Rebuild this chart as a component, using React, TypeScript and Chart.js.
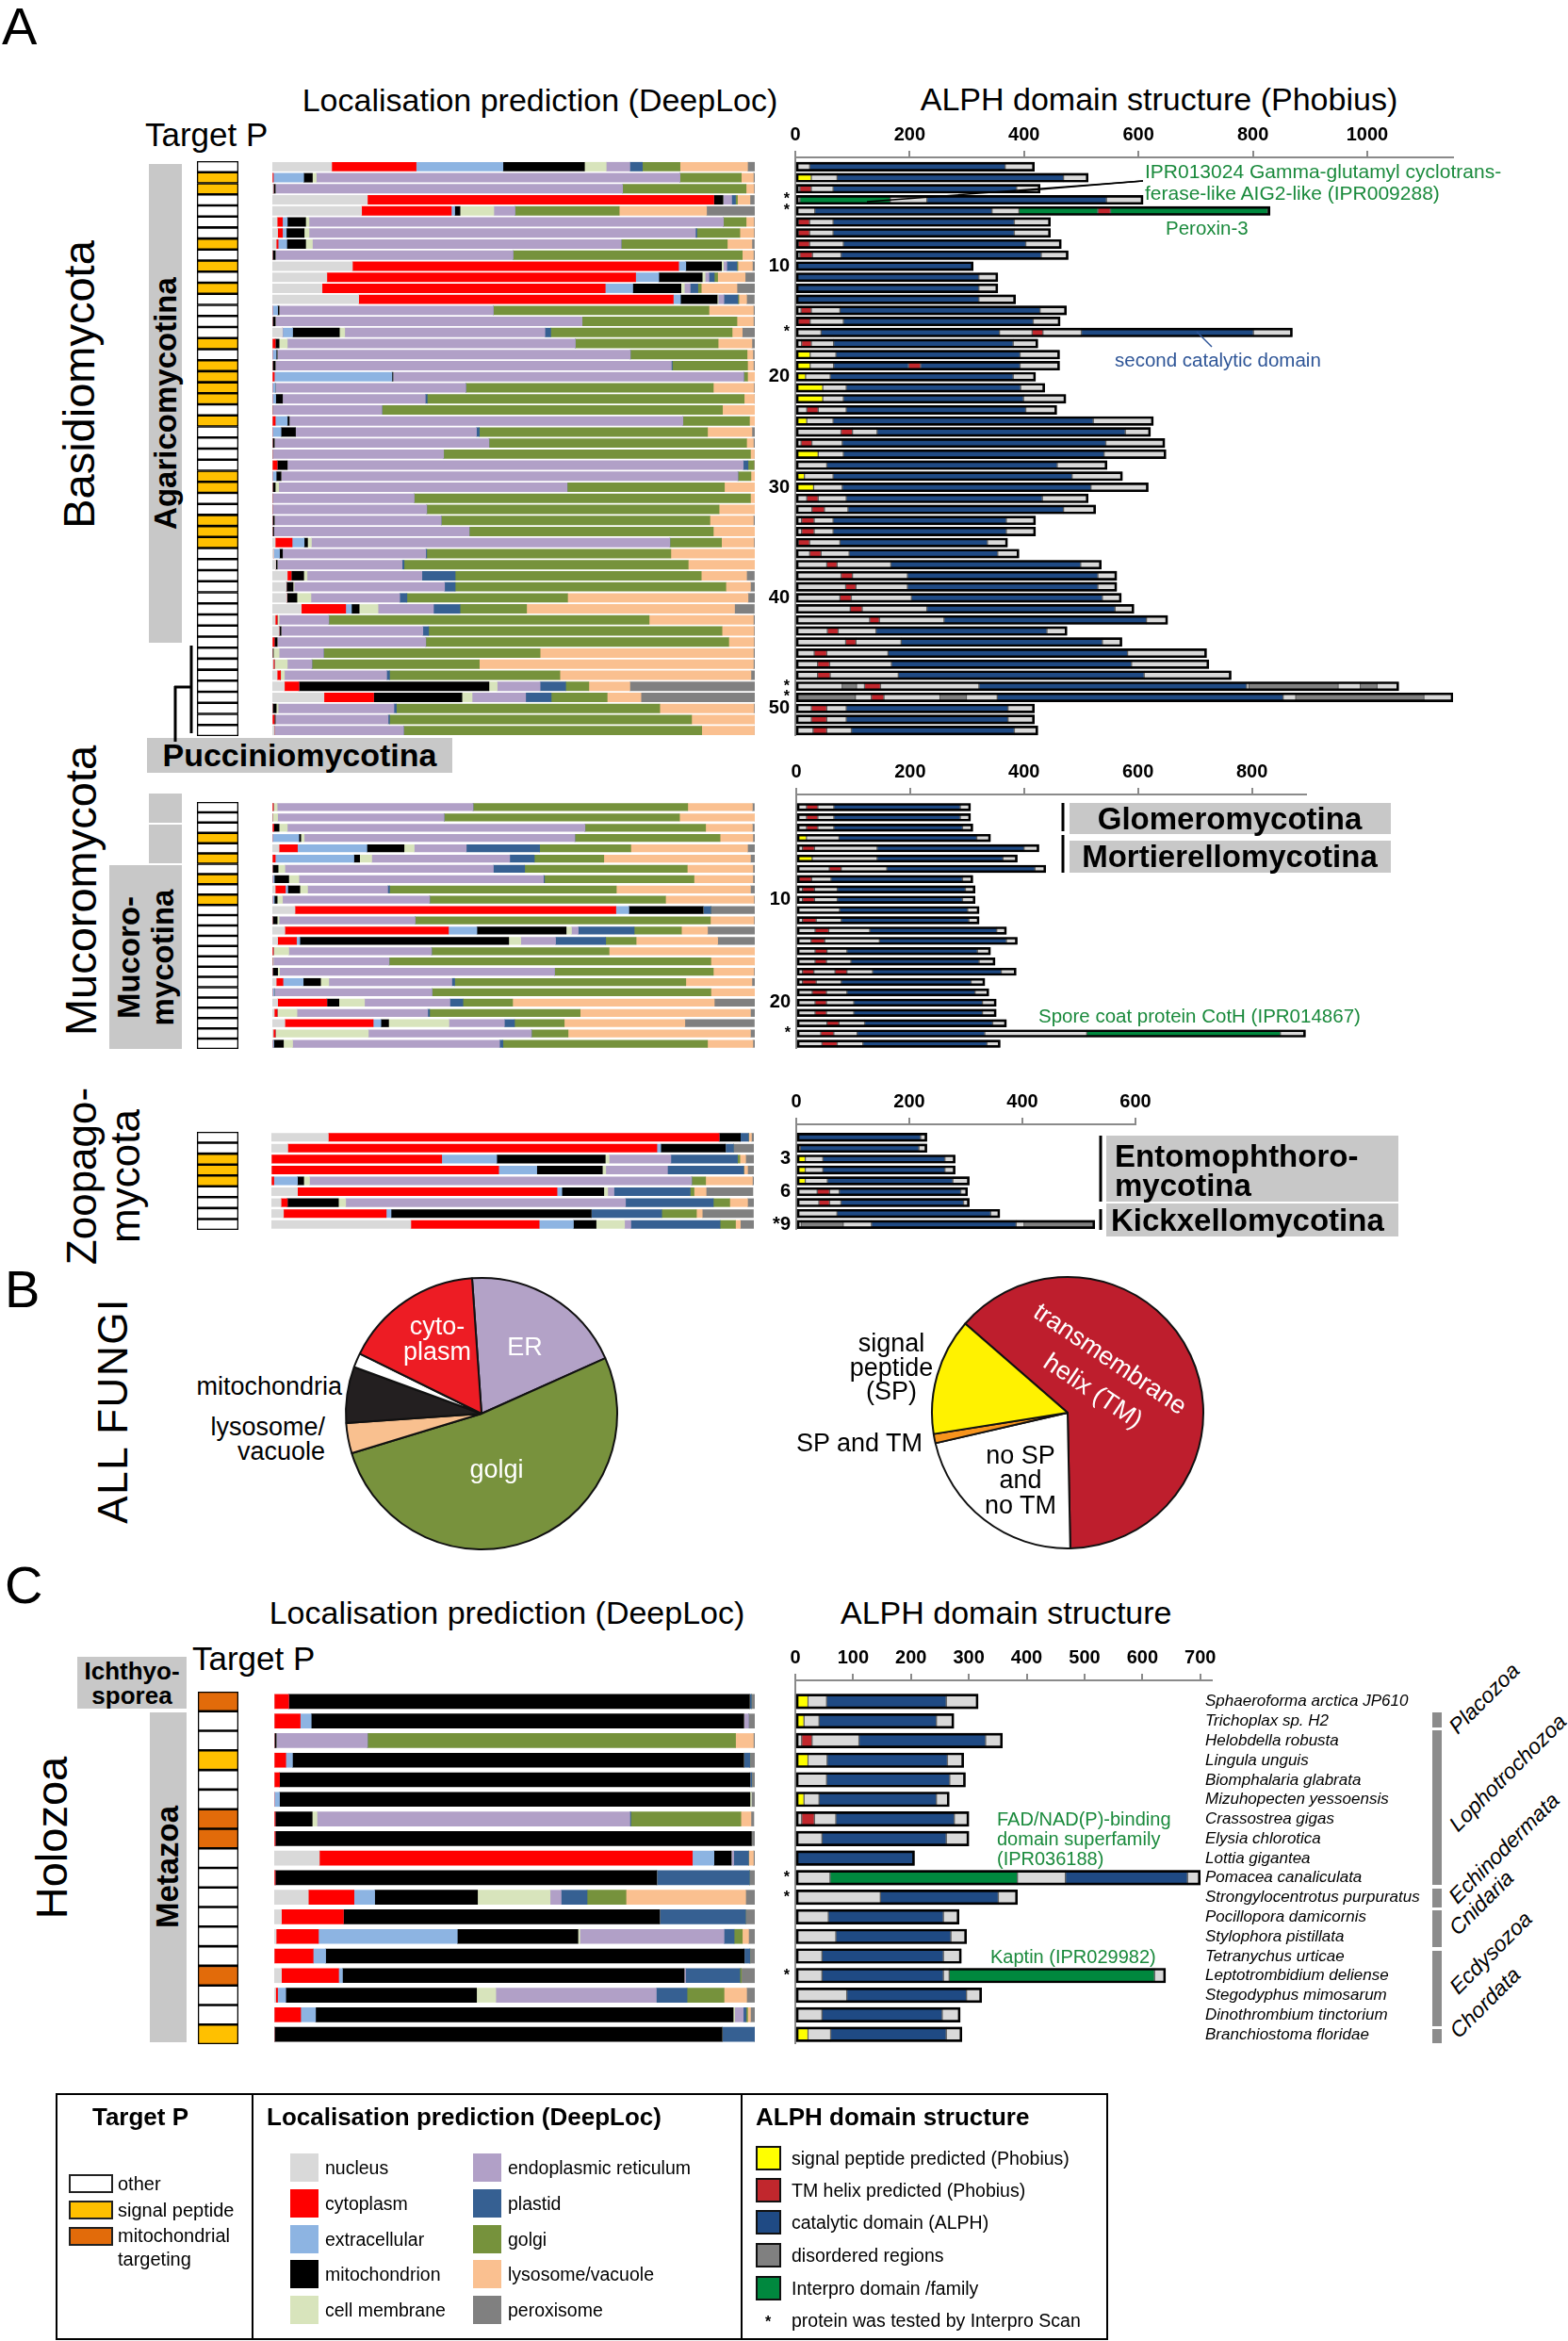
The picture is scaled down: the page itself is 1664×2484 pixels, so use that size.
import React, { useEffect, useRef } from 'react';
import { Chart, registerables } from 'chart.js';
Chart.register(...registerables);

const FONT = "'Liberation Sans', Arial, Helvetica, sans-serif";
Chart.defaults.font.family = FONT;

// ---------------- DATA ----------------
const locCategories = ['nucleus', 'cytoplasm', 'extracellular', 'mitochondrion', 'cell membrane', 'endoplasmic reticulum', 'plastid', 'golgi', 'lysosome/vacuole', 'peroxisome'];
const locColors = ['#d9d9d9', '#ff0000', '#8db4e2', '#000000', '#d8e4bc', '#b1a0c7', '#366092', '#76923c', '#fac090', '#808080'];

// DeepLoc probabilities (%), order = locCategories
const basidioLoc = [
  [12.3, 17.5, 18, 16.9, 4.5, 4.9, 2.6, 7.8, 14, 1.5],
  [0, 0.2, 6.3, 1.8, 0.8, 75.4, 0, 12.7, 2.5, 0.3],
  [0.2, 0, 0, 0.4, 0, 72, 0, 25.6, 1.6, 0.2],
  [19.7, 71.8, 0, 1.9, 0, 1.8, 0.8, 0.4, 2.6, 0.9],
  [18.5, 18.6, 0.7, 1.1, 7, 4.4, 0, 21.6, 18.1, 10.1],
  [1, 1.1, 1, 3.8, 0.7, 85.9, 0, 4.7, 1.6, 0.2],
  [1.1, 1, 0.8, 3.7, 1, 80.1, 0.3, 8.9, 2.9, 0.2],
  [0.8, 0.4, 1.8, 3.9, 1.4, 64, 0, 22, 5.1, 0.5],
  [0, 0, 0, 0.6, 0, 49.3, 0, 47.5, 2.3, 0.3],
  [16.6, 67.6, 1.5, 7.4, 0.4, 0.7, 2.1, 0.2, 3, 0.5],
  [11.3, 64, 4.8, 9, 0.6, 0.8, 1.1, 0.7, 5.7, 2.1],
  [10.3, 58.7, 5.7, 10, 0.7, 1.2, 1.6, 0.7, 7.4, 3.7],
  [17.9, 65.2, 1.5, 7.6, 0.2, 1.2, 2.9, 0.2, 1.6, 1.6],
  [0, 0, 1.1, 0.3, 0, 44.4, 0, 44.7, 9.2, 0.3],
  [0, 0, 0, 0.6, 0, 63.6, 0, 32.1, 3.4, 0.3],
  [2.1, 0, 2.1, 9.7, 1.1, 41.5, 1.2, 37.6, 2.1, 2.7],
  [0, 0.6, 0, 0.8, 1.7, 59.7, 0, 29.6, 7, 0.6],
  [0, 0, 0.8, 0.2, 0, 73.2, 0, 24.2, 1.2, 0.3],
  [0, 0, 0, 0.6, 0, 82.1, 0.2, 15.6, 1.2, 0.3],
  [0, 0.4, 24.4, 0.2, 0, 72.7, 0, 0.8, 1.5, 0],
  [0, 0, 0.6, 0, 0, 39.5, 0, 51.3, 8.4, 0.2],
  [0, 0, 0.7, 1.4, 0, 29.6, 0.4, 65.7, 2.1, 0.1],
  [0, 0, 0, 0, 0, 22.7, 0, 70.6, 6.7, 0],
  [0, 0.6, 2.5, 0.4, 0, 81.6, 0, 13.8, 1.1, 0],
  [0, 0, 1.8, 3, 0, 37.5, 0.6, 47.3, 9.2, 0.6],
  [0, 0, 0, 0.4, 0, 44.5, 0, 53.4, 1.4, 0.3],
  [0, 0, 0, 0, 0, 35.5, 0, 63.6, 0.8, 0],
  [0, 1, 0, 2.1, 0, 94.5, 1, 1.2, 0, 0.2],
  [0, 0, 0.8, 1, 0, 94.7, 0, 2.7, 0.8, 0],
  [0, 0, 0, 0.6, 0.7, 59.8, 0, 32.6, 6.4, 0],
  [0, 0, 0, 0, 0, 29.4, 0, 69.7, 0.9, 0],
  [0, 0, 0, 0, 0, 32, 0, 60.6, 7.4, 0],
  [0, 0, 0, 0.4, 0, 34.6, 0, 55.7, 9, 0.3],
  [0, 0, 0, 0.3, 0, 40.5, 0, 50.6, 8.6, 0],
  [0.6, 3.5, 2.5, 0.7, 0.8, 74.3, 0, 10.7, 6.7, 0.2],
  [0.3, 0, 1.2, 0.6, 0, 29.7, 0.2, 50.6, 17.5, 0],
  [0.7, 0, 0, 0.3, 0, 25.9, 0.4, 58.9, 13.8, 0],
  [3.1, 0.8, 0, 2.6, 0.7, 23.8, 6.9, 51, 9.4, 1.6],
  [2.9, 0, 0, 1.4, 0.2, 31.2, 2.2, 56.1, 5.1, 0.9],
  [3, 0, 0, 2.1, 2.9, 18.4, 1.5, 33.3, 37.4, 1.5],
  [6, 9.2, 1.2, 1.6, 3.9, 11.5, 5.5, 13.8, 43.1, 4.1],
  [0.6, 0.4, 0, 0, 0.4, 10.3, 0, 66.4, 21.6, 0.3],
  [1.4, 0, 0, 0.4, 0, 29.4, 1.2, 60.8, 6.6, 0.2],
  [0, 0.4, 0, 0.6, 0, 30.8, 0, 62.8, 5.2, 0.2],
  [0, 0, 0, 0.2, 1.2, 9.2, 0, 44.9, 44.2, 0.3],
  [0.2, 0.2, 0, 0, 2.7, 5.1, 0, 34.7, 56.8, 0.3],
  [1, 0.7, 0, 0, 0.8, 21.2, 0.6, 35.3, 39.6, 0.9],
  [2.5, 3, 0, 39.4, 1.7, 8.9, 5.3, 4.8, 8.5, 25.9],
  [10.7, 10.3, 0, 18.3, 2.1, 11.1, 5.3, 11.6, 7, 23.6],
  [0, 0, 0, 0.8, 0.4, 24, 0.5, 54.6, 19.5, 0.2],
  [0, 0.4, 0, 0.2, 0, 23.4, 0.3, 62.6, 13.1, 0],
  [0.4, 0, 0, 0, 0, 26.8, 0, 61.8, 10.9, 0],
];

const mucoroLoc = [
  [0, 0.2, 0, 0, 0.8, 40.6, 0, 44.5, 13.4, 0.4],
  [0, 0, 0, 0, 1.1, 34.5, 0, 48.8, 15.6, 0],
  [0, 0.3, 0, 1.1, 1.7, 61.7, 0, 25, 9.7, 0.4],
  [0, 0, 5.5, 0.4, 0.7, 56.1, 0, 30.1, 6.8, 0.4],
  [1.4, 3.8, 14.4, 7.7, 2.1, 10.8, 15.2, 18.9, 24.2, 1.5],
  [0, 0.6, 16.3, 1.2, 2.5, 28.6, 5.1, 14.4, 30.4, 0.9],
  [0, 0, 0, 1.2, 1.4, 43.2, 6.5, 33.7, 13.6, 0.4],
  [0, 0, 0.4, 3, 2.1, 50.7, 0.2, 31, 12.2, 0.4],
  [0.6, 2.1, 0.5, 2.5, 1.6, 16.6, 0.4, 47, 27.8, 0.9],
  [0, 0, 0.4, 0.6, 1.1, 30.5, 0, 48.9, 18.3, 0.2],
  [4.7, 66.5, 2.7, 15.4, 0, 0, 1.6, 0, 0, 9.1],
  [0, 0, 0, 1, 0.4, 28.2, 0, 61.2, 9, 0.2],
  [2.6, 33.9, 5.9, 18.5, 1.1, 1.4, 11.6, 9.8, 5.4, 9.8],
  [1.1, 3.9, 0.7, 43.3, 2.5, 7.2, 10.4, 6.3, 16.9, 7.7],
  [0, 0.2, 0, 0, 3.2, 29.6, 0, 36.8, 30.2, 0],
  [0, 0, 0, 0, 0.2, 24, 0, 66.7, 9.1, 0],
  [0, 0, 0, 1.1, 0.4, 57, 0, 32.9, 8.4, 0.2],
  [0.8, 1.4, 4.2, 3.6, 1.7, 25.5, 0.6, 47.9, 13.7, 0.6],
  [0, 0, 0.4, 0, 0, 32.7, 0, 57.8, 9.1, 0],
  [1.1, 10.2, 0, 2.5, 5.3, 17.7, 2.7, 10.3, 41.8, 8.4],
  [0.4, 0.6, 0, 0, 4.1, 27.1, 0.4, 31.2, 35.3, 0.9],
  [2.6, 18.3, 1.6, 1.6, 12.5, 11.5, 2.1, 10.3, 25, 14.4],
  [0.2, 0.4, 0, 0, 19.3, 33.8, 0, 7.6, 37.8, 0.9],
  [0, 0, 0.3, 2, 1.9, 42.9, 0.7, 42.4, 9.4, 0.4],
];

const zoopagoLoc = [
  [11.8, 81, 0, 4.4, 0, 0, 1.7, 0, 0.6, 0.5],
  [3.4, 76.5, 0.8, 13.4, 0, 0, 1.7, 0, 0, 4.2],
  [0, 35.3, 11.4, 22.5, 0.8, 12.8, 13.8, 0.5, 1.2, 1.7],
  [0, 47.1, 7.9, 13.6, 0.7, 12.8, 15.8, 0, 0.8, 1.3],
  [0, 0.5, 4.9, 1.3, 1.2, 79.2, 0, 2.9, 9.7, 0.3],
  [5.4, 53.8, 1, 8.7, 0.8, 1.3, 15.8, 0.8, 2.5, 9.7],
  [2, 1.3, 0, 10.6, 1.5, 58, 18.2, 3.4, 3.7, 1.3],
  [2.5, 21.3, 1, 41.5, 0, 0, 14.6, 7.2, 1.2, 10.6],
  [28.9, 26.6, 7.1, 4.7, 5.9, 1.3, 18.5, 3.2, 1, 2.8],
];

const holozoaLoc = [
  [0, 3, 0, 95.9, 0, 0, 0.4, 0, 0, 0.7],
  [0, 5.4, 2.3, 90, 0, 1, 0, 0, 0, 1.3],
  [0, 0, 0, 0.4, 0, 19, 0, 76.6, 3.7, 0.3],
  [0, 2.4, 1.4, 93.9, 0, 0, 1.3, 0, 0, 1],
  [0, 1.1, 0, 97.9, 0, 0, 0.4, 0, 0, 0.6],
  [0, 0, 1.1, 97.9, 0.3, 0, 0, 0, 0, 0.7],
  [0, 0.2, 0, 7.7, 1, 65.1, 0.2, 22.9, 2.1, 0.6],
  [0, 0.2, 0, 99.1, 0, 0, 0, 0, 0, 0.7],
  [9.4, 77.6, 4.5, 3.6, 0, 0.5, 3.1, 0, 1, 0.3],
  [0, 0.2, 0, 79.4, 0, 0, 19.3, 0, 0, 1.1],
  [7.1, 9.5, 4.3, 21.4, 15.1, 2.3, 5.4, 8.1, 24.9, 1.9],
  [1.5, 12.9, 0, 65.8, 0, 0, 17.9, 0, 0, 1.9],
  [0.4, 8.8, 28.9, 25.1, 0.4, 30, 2.1, 1.7, 1.3, 1.3],
  [0, 8.1, 2.6, 87.1, 0, 0, 1.2, 0, 0, 1],
  [1.5, 11.9, 0.8, 71.1, 0, 0.3, 11.3, 0.3, 0, 2.8],
  [0.3, 0.4, 1.7, 39.7, 4, 33.4, 6.4, 7.7, 4.7, 1.7],
  [0, 5.5, 3.1, 86.9, 0.3, 1.8, 0.6, 0.3, 0.6, 0.9],
  [0, 0, 0, 93.2, 0, 0, 6.8, 0, 0, 0],
];

// Target P per protein: o = other, s = signal peptide, m = mitochondrial targeting
const basidioTargetP = 'ossoooosososoooosossssosoooossoosssoooooooooooooooooo'.slice(0, 52);
const mucoroTargetP = 'ooososososoooooooooooooo'.slice(0, 24);
const zoopagoTargetP = 'oosssoooo';
const holozoaTargetP = 'moosoommoooooomoos';

// Domain structures: segment type + end position (aa); each segment starts where the previous ended
// g = other region, b = catalytic domain, r = TM helix, y = signal peptide, d = disordered, i = Interpro domain
const basidioDomains = [
  'g25 b367 g418', 'y28 g73 b469 g512', 'g8 r28 g66 b387 g428', 'g8 i166 g230 b544 g608',
  'g34 b344 g391 i529 r551 i826 g830', 'g5 r25 g66 b383 g446', 'g5 r25 g66 b383 g446', 'g5 r25 g84 b403 g465',
  'g8 r30 g80 b430 g477', 'b311', 'b321 g354', 'b321 g354', 'b321 g385', 'g10 r28 g78 b428 g474',
  'g5 r26 g84 b416 g463', 'g45 b357 g414 r433 g500 b801 g869', 'g11 r28 g67 b381 g424', 'y26 g71 b393 g462',
  'y26 g67 b198 r219 b393 g462', 'y18 g61 b381 g420', 'y48 g89 b394 g436', 'y48 g84 b399 g473',
  'g20 r40 g89 b403 g457', 'y20 g66 b521 g626', 'g80 r100 g143 b577 g621', 'g10 r29 g82 b543 g646',
  'y40 g84 b540 g648', 'g55 b458 g545', 'y16 g66 b484 g572', 'y32 g82 b517 g617', 'g20 r40 g89 b432 g512',
  'g29 r51 g92 b469 g525', 'g11 r33 g66 b369 g420', 'g11 r33 g66 b369 g420', 'g5 r25 g78 b336 g371',
  'g25 r45 g94 b354 g391', 'g55 r73 g167 b499 g535', 'g80 r100 g196 b529 g562', 'g88 r106 g196 b529 g562',
  'g78 r98 g203 b537 g570', 'g96 r117 g230 b559 g592', 'g130 r147 g260 b614 g651', 'g56 r75 g141 b440 g475',
  'g88 r106 g185 b537 g571', 'g33 r55 g162 b581 g719', 'g39 r60 g168 b588 g723', 'g39 r61 g180 b610 g762',
  'g82 d107 g121 r149 g321 b789 g793 d949 g988 d1017 g1055', 'd105 g133 r155 g253 d299 g353 b853 g875 d1099 g1150',
  'g28 r55 g89 b372 g418', 'g28 r55 g89 b372 g418', 'g31 r55 g98 b383 g424',
];
const mucoroDomains = [
  'g18 r38 g66 b288 g306', 'g18 r38 g66 b288 g306', 'g18 r38 g66 b292 g310', 'y18 g75 b317 g341',
  'g11 r32 g142 b400 g426', 'y28 g142 b363 g388', 'g58 r79 g159 b419 g438', 'g5 r27 g61 b292 g310',
  'g11 r32 g72 b297 g314', 'g11 r32 g72 b292 g314', 'g76 b301 g321', 'g11 r35 g79 b303 g321',
  'g33 r57 g129 b352 g369', 'g26 r50 g146 b369 g388', 'g33 r54 g89 b318 g341', 'g33 r53 g96 b321 g349',
  'g11 r31 g68 r89 g134 b360 g386', 'g11 r35 g79 b307 g331', 'g28 r53 g89 b314 g338', 'g33 r53 g101 b327 g351',
  'g33 r53 g101 b327 g351', 'g54 r75 g120 b345 g369', 'g43 r66 g107 b331 g510 i850 g894', 'g45 r72 g117 b335 g358',
];
const zoopagoDomains = [
  'b220 g231', 'g7 b217 g231', 'y16 g47 b263 g281', 'y16 g47 b263 g281', 'y16 g55 b277 g306',
  'g37 r59 g76 b291 g303', 'g40 r59 g79 b296 g306', 'g72 b344 g360', 'g9 d83 g133 b389 g403 d528',
];
const holozoaDomains = [
  'y22 g54 b261 g316', 'y15 g41 b244 g274', 'g11 r29 g110 b329 g358', 'y22 g55 b263 g291', 'g54 b267 g294',
  'y15 g41 b244 g266', 'g11 r33 g70 b275 g300', 'g46 b261 g300', 'b206', 'g60 i384 g467 b678 g700',
  'g147 b351 g384', 'g57 b256 g283', 'g70 b269 g296', 'g46 b256 g287', 'g46 b256 g266 i621 g640',
  'g89 b296 g322', 'g46 b254 g285', 'y22 g61 b261 g288',
];

// Row labels on domain axes (0-based row index)
const basidioRowLabels: Record<number, string> = { 3: '*', 4: '*', 9: '10', 15: '*', 19: '20', 29: '30', 39: '40', 47: '*', 48: '*', 49: '50' };
const mucoroRowLabels: Record<number, string> = { 9: '10', 19: '20', 22: '*' };
const zoopagoRowLabels: Record<number, string> = { 2: '3', 5: '6', 8: '*9' };
const holozoaRowLabels: Record<number, string> = { 9: '*', 10: '*', 14: '*' };

const holozoaSpecies = [
  'Sphaeroforma arctica JP610', 'Trichoplax sp. H2', 'Helobdella robusta', 'Lingula unguis', 'Biomphalaria glabrata',
  'Mizuhopecten yessoensis', 'Crassostrea gigas', 'Elysia chlorotica', 'Lottia gigantea', 'Pomacea canaliculata',
  'Strongylocentrotus purpuratus', 'Pocillopora damicornis', 'Stylophora pistillata', 'Tetranychus urticae',
  'Leptotrombidium deliense', 'Stegodyphus mimosarum', 'Dinothrombium tinctorium', 'Branchiostoma floridae',
];

// Panel B pies (percent of all fungal ALPH proteins)
const locPieLabels = ['ER', 'golgi', 'lysosome/vacuole', 'mitochondria', 'other', 'cytoplasm'];
const locPieValues = [19.4, 52, 3.6, 6.7, 1.7, 16.6];
const locPieColors = ['#b3a2c7', '#78923d', '#f9c08f', '#231f20', '#ffffff', '#ed1c24'];
const phobiusPieLabels = ['transmembrane helix (TM)', 'no SP and no TM', 'SP and TM', 'signal peptide (SP)'];
const phobiusPieValues = [63.3, 21.7, 1.1, 13.9];
const phobiusPieColors = ['#be1e2d', '#ffffff', '#f7941d', '#fff200'];

// ---------------- STYLE MAPS ----------------
const domColors: Record<string, string> = { g: '#d9d9d9', b: '#1f4a84', r: '#c1272d', y: '#ffff00', d: '#808080', i: '#00883e' };
const tpColors: Record<string, string> = { o: '#ffffff', s: '#ffc000', m: '#e26b0a' };

const baseOpts: any = {
  animation: false,
  responsive: false,
  maintainAspectRatio: false,
  events: [],
  plugins: { legend: { display: false }, tooltip: { enabled: false } },
};

function parseDomainRow(s: string) {
  let start = 0;
  return s.split(' ').map((tok) => {
    const t = tok[0];
    const end = parseFloat(tok.slice(1));
    const seg = { t, a: start, b: end };
    start = end;
    return seg;
  });
}

function targetPConfig(codes: string) {
  const arr = codes.split('');
  return {
    type: 'bar',
    data: {
      labels: arr.map((_, i) => i),
      datasets: [{
        label: 'Target P', data: arr.map(() => 1), backgroundColor: arr.map((c) => tpColors[c]),
        borderColor: '#000', borderWidth: 1.6, borderSkipped: false, barThickness: 'flex',
      }],
    },
    options: {
      ...baseOpts, indexAxis: 'y', layout: { padding: 0 },
      datasets: { bar: { categoryPercentage: 1, barPercentage: 1 } },
      scales: {
        x: { type: 'linear', display: false, min: 0, max: 1 },
        y: { type: 'category', display: false, offset: true },
      },
    },
  };
}

function locConfig(rows: number[][], thick: number) {
  return {
    type: 'bar',
    data: {
      labels: rows.map((_, i) => i),
      datasets: locCategories.map((name, k) => ({
        label: name, data: rows.map((r) => r[k]), backgroundColor: locColors[k], borderWidth: 0, barThickness: thick,
      })),
    },
    options: {
      ...baseOpts, indexAxis: 'y', layout: { padding: 0 },
      scales: {
        x: { type: 'linear', display: false, min: 0, max: 100, stacked: true },
        y: { type: 'linear', display: false, offset: false, min: -0.5, max: rows.length - 0.5, reverse: true, stacked: true, grid: { offset: false } },
      },
    },
  };
}

function domainConfig(rows: string[], labelsMap: Record<number, string>, max: number, step: number, yMin: number, thick: number) {
  const segs = rows.map(parseDomainRow);
  const maxSeg = Math.max(...segs.map((s) => s.length));
  const datasets: any[] = [{
    label: 'protein', data: segs.map((s) => [0, s[s.length - 1].b]), backgroundColor: 'rgba(0,0,0,0)',
    borderColor: '#000', borderWidth: 2, borderSkipped: false, barThickness: thick, grouped: false,
  }];
  for (let k = 0; k < maxSeg; k++) {
    datasets.push({
      label: 'segment ' + (k + 1),
      data: segs.map((s) => (s[k] ? [s[k].a, s[k].b] : null)),
      backgroundColor: segs.map((s) => (s[k] ? domColors[s[k].t] : 'rgba(0,0,0,0)')),
      borderColor: 'rgba(0,0,0,0.55)', borderWidth: 1, borderSkipped: false, barThickness: thick, grouped: false,
    });
  }
  return {
    type: 'bar',
    data: { labels: rows.map((_, i) => i), datasets },
    options: {
      ...baseOpts, indexAxis: 'y', layout: { padding: { top: 0, left: 0, bottom: 20, right: 24 } },
      scales: {
        x: {
          type: 'linear', position: 'top', min: 0, max, stacked: false, offset: false,
          afterFit: (s: any) => { s.height = 38; },
          ticks: { stepSize: step, includeBounds: false, autoSkip: false, maxRotation: 0, padding: 5, color: '#000', font: { size: 20, weight: 'bold' }, callback: (v: any) => String(v) },
          grid: { drawOnChartArea: true, drawTicks: true, tickLength: 7, lineWidth: 2, tickWidth: 2, tickColor: '#8a8a8a', color: (c: any) => (c.tick && c.tick.value === 0 ? '#8a8a8a' : 'rgba(0,0,0,0)') },
          border: { display: true, color: '#8a8a8a', width: 2 },
        },
        y: {
          type: 'linear', min: yMin, max: rows.length - 0.5, reverse: true, stacked: false, offset: false,
          afterFit: (s: any) => { s.width = 40; },
          ticks: {
            stepSize: 1, autoSkip: false, maxTicksLimit: 1000, includeBounds: false, padding: 6, color: '#000',
            font: (c: any) => ({ size: c.tick && labelsMap[c.tick.value] === '*' ? 16 : 20, weight: 'bold' }),
            callback: (v: any) => labelsMap[v] ?? '',
          },
          grid: { display: false, drawTicks: false, offset: false },
          border: { display: false },
        },
      },
    },
  };
}

function pieConfig(labels: string[], values: number[], colors: string[], rotation: number) {
  return {
    type: 'pie',
    data: { labels, datasets: [{ data: values, backgroundColor: colors, borderColor: '#111', borderWidth: 2, hoverOffset: 0 }] },
    options: { ...baseOpts, rotation, layout: { padding: 1 } },
  };
}

// ---------------- COMPONENTS ----------------
function ChartCanvas({ x, y, w, h, make }: any) {
  const ref = useRef<HTMLCanvasElement>(null);
  useEffect(() => {
    const chart = new Chart(ref.current as any, make());
    return () => chart.destroy();
  }, []);
  return <canvas ref={ref} width={w} height={h} style={{ position: 'absolute', left: x, top: y, width: w, height: h }} />;
}

function T({ x, y, s, a = 'l', r = 0, b = false, i = false, c = '#000', ls = 0, lh = 1.15, children }: any) {
  const tx = a === 'l' ? '0%' : a === 'm' ? '-50%' : '-100%';
  return (
    <div style={{
      position: 'absolute', left: x, top: y, transform: `translate(${tx},-50%) rotate(${r}deg)`,
      fontSize: s, fontWeight: b ? 'bold' : 'normal', fontStyle: i ? 'italic' : 'normal', color: c,
      whiteSpace: 'pre', lineHeight: lh, letterSpacing: ls, fontFamily: FONT,
      textAlign: a === 'l' ? 'left' : a === 'm' ? 'center' : 'right',
    }}>{children}</div>
  );
}

function Box({ x, y, w, h, bg = '#c8c8c8', border }: any) {
  return <div style={{ position: 'absolute', left: x, top: y, width: w, height: h, background: bg, border, boxSizing: 'border-box' }} />;
}

export default function App() {
  const hoPitch = 374 / 18;
  const hoRowY = (i: number) => 1795 + (i + 0.5) * hoPitch;
  return (
    <div style={{ position: 'absolute', left: 0, top: 0, width: 1664, height: 2484, background: '#fff', overflow: 'hidden', fontFamily: FONT }}>
      {/* ---------- PANEL A ---------- */}
      <T x={2} y={28} s={56}>A</T>
      <T x={154} y={143} s={35}>Target P</T>
      <T x={573} y={107} s={34} a="m">Localisation prediction (DeepLoc)</T>
      <T x={1230} y={106} s={34} a="m">ALPH domain structure (Phobius)</T>

      {/* Basidiomycota */}
      <T x={84} y={408} s={47} a="m" r={-90}>Basidiomycota</T>
      <Box x={158} y={174} w={35} h={508} />
      <T x={176} y={428} s={33} a="m" r={-90} b>Agaricomycotina</T>
      <Box x={156} y={783} w={324} h={37} />
      <T x={318} y={802} s={34} a="m" b>Pucciniomycotina</T>
      <ChartCanvas x={209} y={171} w={44} h={610} make={() => targetPConfig(basidioTargetP)} />
      <ChartCanvas x={289} y={171} w={512} h={610} make={() => locConfig(basidioLoc, 9.3)} />
      <ChartCanvas x={804} y={129} w={762} h={672} make={() => domainConfig(basidioDomains, basidioRowLabels, 1150, 200, -0.84, 9.4)} />
      <T x={1215} y={182} s={21} c="#1a8a3c">IPR013024 Gamma-glutamyl cyclotrans-</T>
      <T x={1215} y={205} s={21} c="#1a8a3c">ferase-like AIG2-like (IPR009288)</T>
      <T x={1237} y={242} s={20.5} c="#1a8a3c">Peroxin-3</T>
      <T x={1183} y={382} s={20.5} c="#2e5597">second catalytic domain</T>

      {/* Mucoromycota */}
      <T x={86} y={945} s={47} a="m" r={-90}>Mucoromycota</T>
      <Box x={158} y={842} w={35} h={31} />
      <Box x={158} y={875} w={35} h={41} />
      <Box x={116} y={918} w={77} h={195} />
      <T x={155} y={1016} s={33} a="m" r={-90} b lh={1.08}>{'Mucoro-\nmycotina'}</T>
      <ChartCanvas x={209} y={851} w={44} h={262} make={() => targetPConfig(mucoroTargetP)} />
      <ChartCanvas x={289} y={851} w={512} h={262} make={() => locConfig(mucoroLoc, 7.6)} />
      <ChartCanvas x={805} y={805} w={605} h={328} make={() => domainConfig(mucoroDomains, mucoroRowLabels, 895, 200, -1.23, 7.8)} />
      <Box x={1135} y={852} w={341} h={33} />
      <T x={1305} y={869} s={33} a="m" b>Glomeromycotina</T>
      <Box x={1135} y={892} w={341} h={34} />
      <T x={1305} y={909} s={33} a="m" b>Mortierellomycotina</T>
      <T x={1102} y={1078} s={20.5} c="#1a8a3c">Spore coat protein CotH (IPR014867)</T>

      {/* Zoopagomycota */}
      <T x={110} y={1248} s={44} a="m" r={-90} lh={1.05}>{'Zoopago-\nmycota'}</T>
      <ChartCanvas x={209} y={1201} w={44} h={104} make={() => targetPConfig(zoopagoTargetP)} />
      <ChartCanvas x={288} y={1201} w={512} h={104} make={() => locConfig(zoopagoLoc, 8.4)} />
      <ChartCanvas x={805} y={1155} w={424} h={170} make={() => domainConfig(zoopagoDomains, zoopagoRowLabels, 600, 200, -1.19, 8.8)} />
      <Box x={1174} y={1205} w={310} h={70} />
      <T x={1183} y={1242} s={33} b lh={0.95}>{'Entomophthoro-\nmycotina'}</T>
      <Box x={1174} y={1277} w={310} h={35} />
      <T x={1179} y={1295} s={33} b>Kickxellomycotina</T>

      {/* ---------- PANEL B ---------- */}
      <T x={5} y={1368} s={56}>B</T>
      <T x={120} y={1497} s={44} a="m" r={-90} ls={1.5}>ALL FUNGI</T>
      <ChartCanvas x={365} y={1354} w={292} h={292} make={() => pieConfig(locPieLabels, locPieValues, locPieColors, -4)} />
      <ChartCanvas x={987} y={1353} w={292} h={292} make={() => pieConfig(phobiusPieLabels, phobiusPieValues, phobiusPieColors, -49)} />
      <T x={464} y={1421} s={27} a="m" c="#fff" lh={1.0}>{'cyto-\nplasm'}</T>
      <T x={557} y={1430} s={27} a="m" c="#fff">ER</T>
      <T x={527} y={1560} s={27} a="m" c="#fff">golgi</T>
      <T x={363} y={1472} s={27} a="r">mitochondria</T>
      <T x={345} y={1528} s={27} a="r" lh={0.95}>{'lysosome/\nvacuole'}</T>
      <T x={946} y={1451} s={27} a="m" lh={0.95}>{'signal\npeptide\n(SP)'}</T>
      <T x={979} y={1532} s={27} a="r">SP and TM</T>
      <T x={1083} y={1571} s={27} a="m" lh={0.98}>{'no SP\nand\nno TM'}</T>
      <T x={1178} y={1442} s={27} a="m" r={34} c="#fff">transmembrane</T>
      <T x={1160} y={1476} s={27} a="m" r={34} c="#fff">helix (TM)</T>

      {/* ---------- PANEL C ---------- */}
      <T x={5} y={1682} s={56}>C</T>
      <T x={538} y={1712} s={34} a="m">Localisation prediction (DeepLoc)</T>
      <T x={892} y={1712} s={34}>ALPH domain structure</T>
      <T x={204} y={1760} s={35}>Target P</T>
      <T x={55} y={1950} s={47} a="m" r={-90}>Holozoa</T>
      <Box x={82} y={1758} w={116} h={55} />
      <T x={140} y={1786} s={26} a="m" b lh={1.0}>{'Ichthyo-\nsporea'}</T>
      <Box x={159} y={1817} w={39} h={350} />
      <T x={178} y={1981} s={33} a="m" r={-90} b>Metazoa</T>
      <ChartCanvas x={210} y={1795} w={43} h={374} make={() => targetPConfig(holozoaTargetP)} />
      <ChartCanvas x={291} y={1795} w={510} h={374} make={() => locConfig(holozoaLoc, 15)} />
      <ChartCanvas x={804} y={1745} w={506} h={444} make={() => domainConfig(holozoaDomains, holozoaRowLabels, 720, 100, -1.077, 15.5)} />
      {holozoaSpecies.map((sp, i) => (
        <T key={sp} x={1279} y={hoRowY(i)} s={17} i>{sp}</T>
      ))}
      <T x={1058} y={1951} s={20} c="#1a8a3c" lh={1.04}>{'FAD/NAD(P)-binding\ndomain superfamily\n(IPR036188)'}</T>
      <T x={1051} y={2076} s={20} c="#1a8a3c">Kaptin (IPR029982)</T>
      {[[1817, 1833], [1836, 2000], [2004, 2024], [2027, 2066], [2070, 2150], [2153, 2168]].map(([a, b2], k) => (
        <Box key={k} x={1520} y={a} w={10} h={b2 - a} bg="#8c8c8c" />
      ))}
      <T x={1575} y={1802} s={23} a="m" r={-45} i>Placozoa</T>
      <T x={1600} y={1881} s={23} a="m" r={-45} i>Lophotrochozoa</T>
      <T x={1596} y={1961} s={23} a="m" r={-45} i>Echinodermata</T>
      <T x={1572} y={2019} s={23} a="m" r={-45} i>Cnidaria</T>
      <T x={1582} y={2072} s={23} a="m" r={-45} i>Ecdysozoa</T>
      <T x={1576} y={2125} s={23} a="m" r={-45} i>Chordata</T>

      {/* ---------- LINES ---------- */}
      <svg width={1664} height={2484} style={{ position: 'absolute', left: 0, top: 0, pointerEvents: 'none' }}>
        <line x1={203} y1={685} x2={203} y2={778} stroke="#000" strokeWidth={3} />
        <line x1={185} y1={729} x2={204} y2={729} stroke="#000" strokeWidth={3} />
        <line x1={186} y1={728} x2={186} y2={787} stroke="#000" strokeWidth={3} />
        <line x1={1213} y1={192} x2={920} y2={214} stroke="#000" strokeWidth={1.5} />
        <line x1={1213} y1={192} x2={1079} y2={203} stroke="#000" strokeWidth={1.5} />
        <line x1={1270} y1={352} x2={1286} y2={368} stroke="#2e5597" strokeWidth={1.5} />
        <line x1={1128} y1={852} x2={1128} y2={882} stroke="#000" strokeWidth={3} />
        <line x1={1128} y1={886} x2={1128} y2={926} stroke="#000" strokeWidth={3} />
        <line x1={1168} y1={1205} x2={1168} y2={1275} stroke="#000" strokeWidth={3} />
        <line x1={1168} y1={1283} x2={1168} y2={1305} stroke="#000" strokeWidth={3} />
      </svg>

      {/* ---------- LEGEND ---------- */}
      <Box x={59} y={2221} w={1117} h={262} bg="transparent" border="2px solid #000" />
      <Box x={267} y={2221} w={2} h={262} bg="#000" />
      <Box x={786} y={2221} w={2} h={262} bg="#000" />
      <T x={149} y={2247} s={26} a="m" b>Target P</T>
      <Box x={73} y={2307} w={47} h={20} bg={tpColors.o} border="2px solid #222" />
      <Box x={73} y={2335} w={47} h={20} bg={tpColors.s} border="2px solid #222" />
      <Box x={73} y={2363} w={47} h={20} bg={tpColors.m} border="2px solid #222" />
      <T x={125} y={2317} s={20}>other</T>
      <T x={125} y={2345} s={20}>signal peptide</T>
      <T x={125} y={2372} s={20}>mitochondrial</T>
      <T x={125} y={2397} s={20}>targeting</T>

      <T x={283} y={2247} s={26} b>Localisation prediction (DeepLoc)</T>
      {locCategories.map((name, k) => {
        const col = k < 5 ? 0 : 1;
        const row = k % 5;
        const cy = [2300, 2338, 2376, 2413, 2451][row];
        const sx = col === 0 ? 308 : 502;
        return (
          <React.Fragment key={name}>
            <Box x={sx} y={cy - 15} w={30} h={30} bg={locColors[k]} />
            <T x={sx + 37} y={cy} s={19.5}>{name}</T>
          </React.Fragment>
        );
      })}

      <T x={802} y={2247} s={26} b>ALPH domain structure</T>
      {[
        ['y', 'signal peptide predicted (Phobius)'],
        ['r', 'TM helix predicted (Phobius)'],
        ['b', 'catalytic domain (ALPH)'],
        ['d', 'disordered regions'],
        ['i', 'Interpro domain /family'],
      ].map(([t, name], k) => {
        const cy = [2290, 2324, 2358, 2393, 2428][k];
        return (
          <React.Fragment key={t}>
            <Box x={802} y={cy - 13} w={27} h={26} bg={domColors[t]} border="2px solid #111" />
            <T x={840} y={cy} s={19.5}>{name}</T>
          </React.Fragment>
        );
      })}
      <T x={815} y={2464} s={16} a="m" b>*</T>
      <T x={840} y={2462} s={19.5}>protein was tested by Interpro Scan</T>
    </div>
  );
}
